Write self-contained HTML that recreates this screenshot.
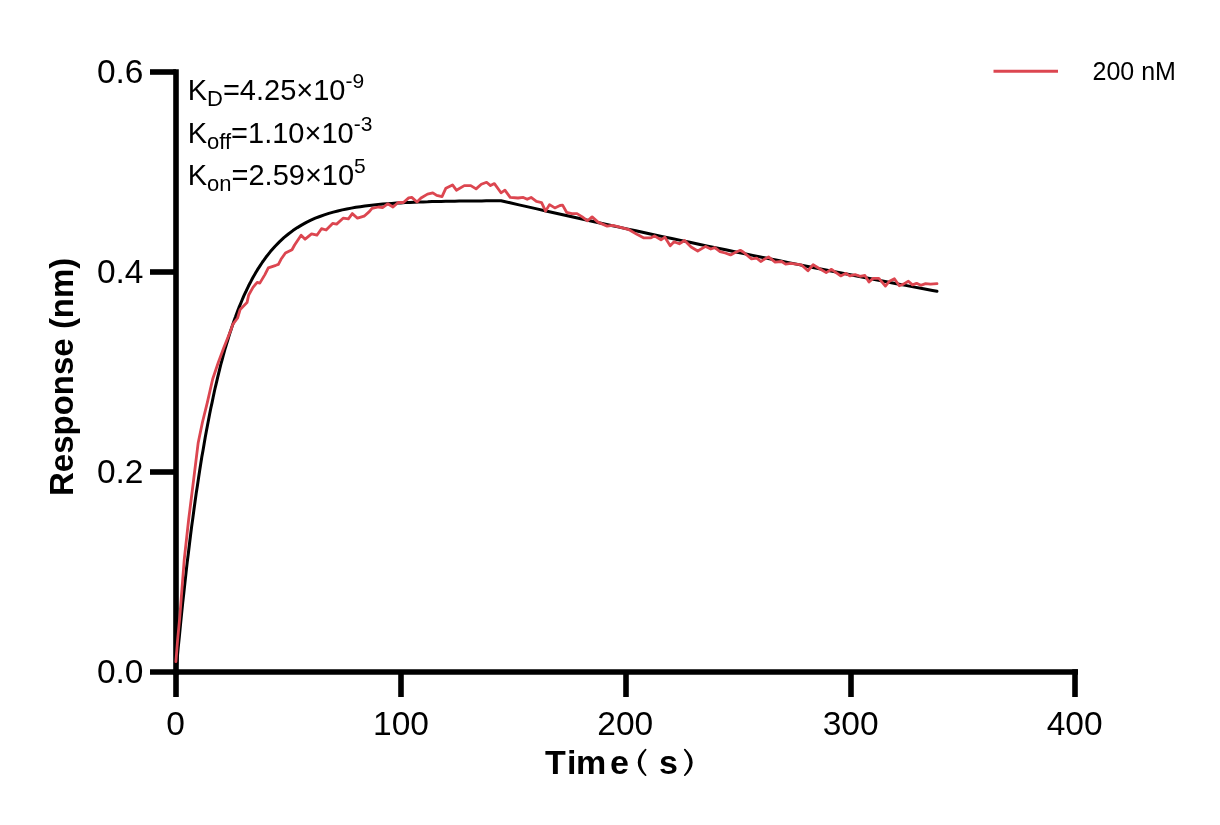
<!DOCTYPE html>
<html><head><meta charset="utf-8"><style>
html,body{margin:0;padding:0;background:#fff;width:1220px;height:825px;overflow:hidden}
svg{display:block;will-change:transform}
text{font-family:"Liberation Sans", sans-serif;fill:#000}
</style></head><body>
<svg width="1220" height="825" viewBox="0 0 1220 825">
<rect width="1220" height="825" fill="#fff"/>
<g stroke="#000" stroke-width="5.6" fill="none" stroke-linecap="butt">
<path d="M176,69.2 V675"/>
<path d="M150,72 H176"/>
<path d="M150,272 H176"/>
<path d="M150,472 H176"/>
<path d="M150,672 H1078"/>
<path d="M176,672 V697"/>
<path d="M401,672 V697"/>
<path d="M626,672 V697"/>
<path d="M851,672 V697"/>
<path d="M1075,669.2 V697"/>
</g>
<g font-size="33.5" text-anchor="end">
<text x="143.5" y="83.3">0.6</text>
<text x="143.5" y="283.3">0.4</text>
<text x="143.5" y="483.3">0.2</text>
<text x="143.5" y="683">0.0</text>
</g>
<g font-size="33.5" text-anchor="middle">
<text x="175.5" y="735">0</text>
<text x="401" y="735">100</text>
<text x="625.3" y="735">200</text>
<text x="850.7" y="735">300</text>
<text x="1074.7" y="735">400</text>
</g>
<text transform="translate(73.1,496) rotate(-90)" font-size="33" font-weight="bold">Response (nm)</text>
<g font-size="34" font-weight="bold">
<text x="545" y="774">T</text><text x="567" y="774">i</text><text x="576" y="774">m</text><text x="610" y="774">e</text><text x="659" y="774">s</text>
</g>
<g stroke="#000" stroke-width="1.7" fill="#000" stroke-linejoin="round" stroke-linecap="round">
<path d="M645.6,749.6 Q631.6,762.4 645.6,775.2 Q634.6,762.4 645.6,749.6 Z"/>
<path d="M684.8,749.6 Q698.8,762.4 684.8,775.2 Q695.8,762.4 684.8,749.6 Z"/>
</g>
<g font-size="29">
<text x="187.7" y="100">K<tspan font-size="22" dy="6">D</tspan><tspan dy="-6">=4.25×10</tspan><tspan font-size="21" dy="-12">-9</tspan></text>
<text x="187.7" y="142.8">K<tspan font-size="22" dy="6">off</tspan><tspan dy="-6">=1.10×10</tspan><tspan font-size="21" dy="-12">-3</tspan></text>
<text x="187.7" y="184.8">K<tspan font-size="22" dy="6">on</tspan><tspan dy="-6">=2.59×10</tspan><tspan font-size="21" dy="-12">5</tspan></text>
</g>
<path d="M993.5,71.2 H1058" stroke="#dc4650" stroke-width="3.1"/>
<text x="1092.5" y="80" font-size="25">200 nM</text>
<path d="M176.0,672.0 L177.1,659.7 L178.2,647.7 L179.4,636.0 L180.5,624.7 L181.6,613.6 L182.7,602.8 L183.9,592.3 L185.0,582.1 L186.1,572.1 L187.2,562.4 L188.4,553.0 L189.5,543.8 L190.6,534.8 L191.7,526.1 L192.9,517.6 L194.0,509.3 L195.1,501.2 L196.2,493.4 L197.4,485.8 L198.5,478.3 L199.6,471.1 L200.7,464.0 L201.8,457.1 L203.0,450.4 L204.1,443.9 L205.2,437.5 L206.3,431.4 L207.5,425.3 L208.6,419.5 L209.7,413.7 L210.8,408.2 L212.0,402.8 L213.1,397.5 L214.2,392.3 L215.3,387.3 L216.5,382.4 L217.6,377.7 L218.7,373.1 L219.8,368.6 L220.9,364.2 L222.1,359.9 L223.2,355.7 L224.3,351.7 L225.4,347.7 L226.6,343.9 L227.7,340.2 L228.8,336.5 L229.9,333.0 L231.1,329.5 L232.2,326.1 L233.3,322.9 L234.4,319.7 L235.6,316.6 L236.7,313.5 L237.8,310.6 L238.9,307.7 L240.1,304.9 L241.2,302.2 L242.3,299.5 L243.4,296.9 L244.5,294.4 L245.7,292.0 L246.8,289.6 L247.9,287.3 L249.0,285.0 L250.2,282.8 L251.3,280.6 L252.4,278.5 L253.5,276.5 L254.7,274.5 L255.8,272.6 L256.9,270.7 L258.0,268.9 L259.2,267.1 L260.3,265.4 L261.4,263.7 L262.5,262.0 L263.7,260.4 L264.8,258.8 L265.9,257.3 L270.4,251.6 L274.9,246.5 L279.4,241.9 L283.9,237.7 L288.4,234.0 L292.9,230.6 L297.4,227.6 L301.9,224.9 L306.4,222.4 L310.9,220.2 L315.3,218.2 L319.8,216.5 L324.3,214.9 L328.8,213.4 L333.3,212.1 L337.8,211.0 L342.3,209.9 L346.8,209.0 L351.3,208.1 L355.8,207.3 L360.3,206.7 L364.8,206.0 L369.3,205.5 L373.8,205.0 L378.3,204.5 L382.8,204.1 L387.3,203.8 L391.8,203.4 L396.3,203.1 L400.8,202.9 L405.2,202.6 L409.7,202.4 L414.2,202.2 L418.7,202.1 L423.2,201.9 L427.7,201.8 L432.2,201.6 L436.7,201.5 L441.2,201.4 L445.7,201.3 L450.2,201.2 L454.7,201.2 L459.2,201.1 L463.7,201.0 L468.2,201.0 L472.7,200.9 L477.2,200.9 L481.7,200.9 L486.2,200.8 L490.7,200.8 L495.1,200.8 L499.6,200.7 L501.0,200.7 L510.0,202.8 L519.0,204.9 L528.0,206.9 L536.9,208.9 L545.9,211.0 L554.9,213.0 L563.9,215.0 L572.9,217.0 L581.9,219.0 L590.9,221.0 L599.9,223.0 L608.9,225.0 L617.9,226.9 L626.8,228.9 L635.8,230.8 L644.8,232.8 L653.8,234.7 L662.8,236.6 L671.8,238.5 L680.8,240.4 L689.8,242.3 L698.8,244.2 L707.8,246.1 L716.7,248.0 L725.7,249.8 L734.7,251.7 L743.7,253.5 L752.7,255.4 L761.7,257.2 L770.7,259.0 L779.7,260.8 L788.7,262.6 L797.7,264.4 L806.6,266.2 L815.6,268.0 L824.6,269.8 L833.6,271.5 L842.6,273.3 L851.6,275.0 L860.6,276.8 L869.6,278.5 L878.6,280.2 L887.6,282.0 L896.5,283.7 L905.5,285.4 L914.5,287.1 L923.5,288.8 L932.5,290.4 L937.0,291.3" stroke="#000" stroke-width="3" fill="none" stroke-linejoin="round" stroke-linecap="round"/>
<path d="M175.9,661.7 L177.6,640.0 L179.7,618.0 L184.2,560.0 L188.6,520.0 L193.6,480.0 L198.2,442.7 L202.5,422.0 L207.3,402.7 L212.7,379.0 L218.2,362.7 L223.6,348.2 L230.9,330.0 L232.8,324.4 L237.6,318.0 L240.2,309.4 L247.0,302.6 L248.7,295.0 L253.0,287.4 L257.2,282.3 L259.8,283.1 L264.9,274.6 L268.3,267.8 L275.9,265.3 L278.4,264.4 L281.0,259.3 L285.4,253.0 L292.0,249.7 L294.6,245.0 L301.1,235.2 L305.1,239.2 L311.6,233.9 L316.9,235.2 L321.5,228.7 L326.1,230.0 L332.6,223.4 L336.6,224.1 L343.1,218.2 L348.4,218.9 L352.3,213.6 L357.5,218.2 L364.1,216.2 L369.3,211.6 L372.0,208.4 L378.5,207.0 L382.5,207.7 L387.7,203.8 L393.0,207.0 L398.2,202.5 L403.4,202.5 L408.7,197.9 L411.8,197.4 L417.0,202.0 L421.0,198.0 L427.5,194.1 L432.8,192.8 L436.7,195.4 L442.0,196.7 L445.9,188.2 L452.5,184.9 L456.4,190.2 L464.3,185.6 L470.8,185.6 L476.1,188.9 L481.3,184.3 L486.6,182.3 L490.5,185.6 L494.4,183.6 L501.0,192.8 L504.9,190.2 L510.2,197.4 L518.0,198.0 L523.3,197.4 L527.2,199.3 L531.1,197.4 L536.4,201.3 L541.6,202.6 L545.6,211.1 L549.5,204.6 L554.8,207.9 L560.0,205.5 L562.6,205.1 L566.6,212.3 L571.8,213.6 L577.0,213.6 L582.3,216.9 L587.5,220.8 L592.1,216.9 L598.0,222.1 L607.2,226.1 L612.5,225.4 L617.7,226.7 L628.2,229.3 L637.4,234.6 L643.9,237.9 L650.5,237.9 L654.4,235.9 L661.0,239.8 L664.9,237.2 L670.2,245.7 L674.1,241.8 L679.3,243.8 L684.6,240.5 L691.1,247.0 L697.7,251.0 L705.6,246.4 L710.8,249.0 L714.8,247.7 L720.0,251.6 L725.2,253.0 L730.5,254.9 L735.7,252.3 L740.3,250.3 L743.6,252.3 L751.5,258.9 L756.7,258.2 L760.7,261.5 L768.5,256.9 L775.1,262.1 L781.6,261.5 L785.6,264.1 L790.8,263.4 L801.3,264.8 L807.9,270.7 L813.1,264.8 L818.4,268.0 L826.2,272.6 L831.5,269.3 L840.7,275.9 L845.9,273.3 L849.8,275.9 L855.1,274.6 L860.0,276.3 L864.9,275.5 L869.0,282.0 L873.1,278.4 L878.9,278.4 L885.4,286.1 L889.5,281.2 L894.4,278.8 L899.3,285.7 L903.4,284.1 L908.4,281.2 L912.5,284.9 L916.6,283.3 L920.7,285.3 L925.6,283.7 L930.5,284.1 L937.0,283.7" stroke="#dc4650" stroke-width="2.8" fill="none" stroke-linejoin="round" stroke-linecap="round"/>
</svg>
</body></html>
